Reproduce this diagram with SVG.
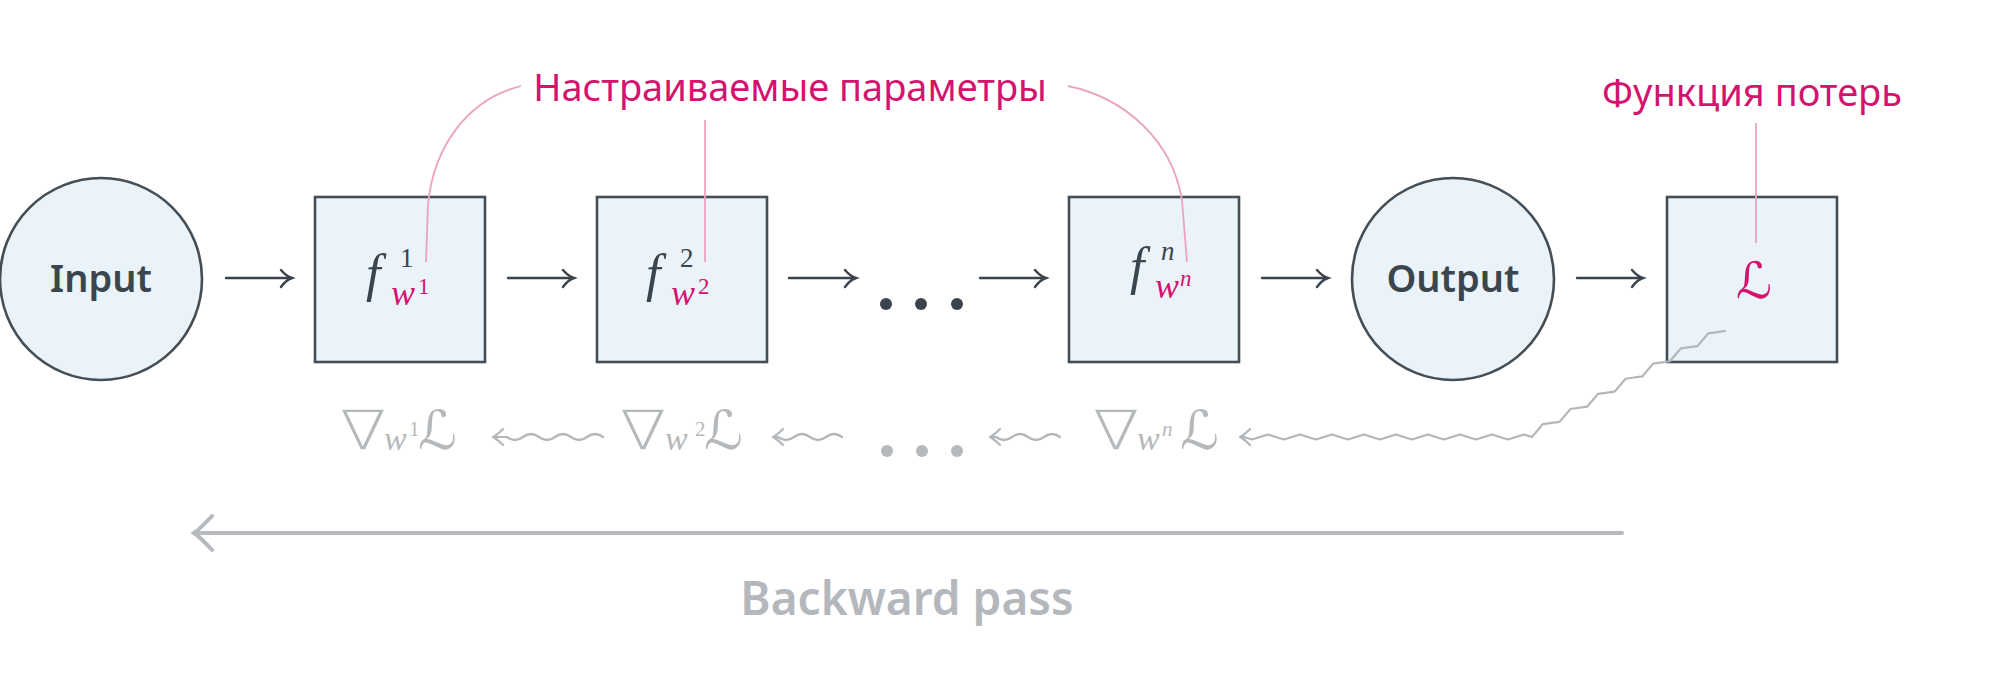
<svg xmlns="http://www.w3.org/2000/svg" width="2000" height="691" viewBox="0 0 2000 691">
<style>
.node{fill:#e9f3f9;stroke:#444e56;stroke-width:2.6}
.lbl{font-family:"Noto Sans","Open Sans",sans-serif;font-weight:600;font-size:38px;fill:#3b454d;text-anchor:middle}
.pinkt{font-family:"Noto Sans","Open Sans",sans-serif;font-size:38px;fill:#d4136f;text-anchor:middle}
.lead{fill:none;stroke:#eaa3c1;stroke-width:1.8}
.math{font-family:"Liberation Serif","DejaVu Serif",serif;fill:#3b454d}
.it{font-style:italic}
.pk{fill:#d4136f}
.gm{font-family:"Liberation Serif","DejaVu Serif",serif;fill:#b5b9bc}
.sym{font-family:"DejaVu Sans",sans-serif}
.nab{font-family:"DejaVu Sans",sans-serif;font-weight:200;fill:#b5b9bc;font-size:54px}
.fwd{fill:none;stroke:#3b444c;stroke-width:2.4;stroke-linecap:round}
.bwd{fill:none;stroke:#b3b7ba;stroke-width:2.2;stroke-linecap:round;stroke-linejoin:round}
.big{fill:none;stroke:#b6babe;stroke-width:4;stroke-linecap:round}
.bp{font-family:"Noto Sans","Open Sans",sans-serif;font-weight:600;font-size:46px;fill:#b4b8bc;text-anchor:middle}
</style>

<g id="input">
  <circle class="node" cx="101" cy="279" r="101"/>
  <text class="lbl" x="101" y="292">Input</text>
</g>

<g id="f1">
  <rect class="node" x="315" y="197" width="170" height="165"/>
  <text class="math it" x="366" y="291" font-size="52">f</text>
  <text class="math" x="400" y="267" font-size="27">1</text>
  <text class="math it pk" x="391" y="305" font-size="36">w</text>
  <text class="math pk" x="418" y="294" font-size="23">1</text>
</g>

<g id="f2">
  <rect class="node" x="597" y="197" width="170" height="165"/>
  <text class="math it" x="646" y="291" font-size="52">f</text>
  <text class="math" x="680" y="267" font-size="27">2</text>
  <text class="math it pk" x="671" y="305" font-size="36">w</text>
  <text class="math pk" x="698" y="294" font-size="23">2</text>
</g>

<g id="ellipsis-top" fill="#3b444c">
  <circle cx="886" cy="304" r="6"/>
  <circle cx="921" cy="304" r="6"/>
  <circle cx="957" cy="304" r="6"/>
</g>

<g id="fn">
  <rect class="node" x="1069" y="197" width="170" height="165"/>
  <text class="math it" x="1130" y="284" font-size="52">f</text>
  <text class="math it" x="1161" y="260" font-size="27">n</text>
  <text class="math it pk" x="1155" y="298" font-size="36">w</text>
  <text class="math it pk" x="1180" y="286" font-size="23">n</text>
</g>

<g id="output">
  <circle class="node" cx="1453" cy="279" r="101"/>
  <text class="lbl" x="1453" y="292">Output</text>
</g>

<g id="loss">
  <rect class="node" x="1667" y="197" width="170" height="165"/>
  <text class="sym pk" x="1754" y="298" font-size="50" text-anchor="middle">ℒ</text>
</g>

<g id="label-params">
  <text class="pinkt" x="790" y="101">Настраиваемые параметры</text>
  <path class="lead" d="M521 86 C465 100 433 150 428 205 L426 262"/>
  <path class="lead" d="M705 120 L705 262"/>
  <path class="lead" d="M1068 86 C1125 98 1172 140 1182 200 L1187 262"/>
</g>

<g id="label-loss">
  <text class="pinkt" x="1752" y="106">Функция потерь</text>
  <path class="lead" d="M1756 123 L1756 243"/>
</g>

<g id="grad1">
  <text class="nab" transform="translate(340 449) scale(1.25 1)">∇</text>
  <text class="gm it" x="384" y="450" font-size="34">w</text>
  <text class="gm" x="409" y="436" font-size="21">1</text>
  <text class="gm sym" x="418" y="449" font-size="54">ℒ</text>
</g>

<g id="grad2">
  <text class="nab" transform="translate(620 449) scale(1.25 1)">∇</text>
  <text class="gm it" x="665" y="450" font-size="34">w</text>
  <text class="gm" x="695" y="436" font-size="21">2</text>
  <text class="gm sym" x="704" y="449" font-size="54">ℒ</text>
</g>

<g id="ellipsis-bottom" fill="#b5b9bc">
  <circle cx="887" cy="451" r="6"/>
  <circle cx="922" cy="451" r="6"/>
  <circle cx="957" cy="451" r="6"/>
</g>

<g id="gradn">
  <text class="nab" transform="translate(1093 449) scale(1.25 1)">∇</text>
  <text class="gm it" x="1137" y="450" font-size="34">w</text>
  <text class="gm it" x="1162" y="436" font-size="21">n</text>
  <text class="gm sym" x="1180" y="449" font-size="54">ℒ</text>
</g>

<g id="backward-label">
  <text class="bp" x="907" y="615">Backward pass</text>
</g>

<g id="connectors">
  <path class="fwd" d="M226 278 H291 M281 270 Q286 276 292 278 Q286 280 281 287"/>
  <path class="fwd" d="M508 278 H573 M563 270 Q568 276 574 278 Q568 280 563 287"/>
  <path class="fwd" d="M789 278 H855 M845 270 Q850 276 856 278 Q850 280 845 287"/>
  <path class="fwd" d="M980 278 H1045 M1035 270 Q1040 276 1046 278 Q1040 280 1035 287"/>
  <path class="fwd" d="M1262 278 H1327 M1317 270 Q1322 276 1328 278 Q1322 280 1317 287"/>
  <path class="fwd" d="M1577 278 H1642 M1632 270 Q1637 276 1643 278 Q1637 280 1632 287"/>

  <path class="bwd" d="M603 437 q-8 -6 -16 0 t-16 0 t-16 0 t-16 0 t-16 0 t-16 0 L494 437 M503 429 Q497 435 493 437 Q497 439 503 445"/>
  <path class="bwd" d="M842 437 q-8 -6 -16 0 t-16 0 t-16 0 t-16 0 L774 437 M783 429 Q777 435 773 437 Q777 439 783 445"/>
  <path class="bwd" d="M1060 437 q-8 -6 -16 0 t-16 0 t-16 0 t-16 0 L991 437 M1000 429 Q994 435 990 437 Q994 439 1000 445"/>
  <path class="bwd" d="M1725 331 l-16.69 2.31 l-10.89 12.83 l-16.69 2.31 l-10.89 12.83 l-16.69 2.31 l-10.89 12.83 l-16.69 2.31 l-10.89 12.83 l-16.69 2.31 l-10.89 12.83 l-16.69 2.31 l-10.89 12.83 l-16.69 2.31 l-10.89 12.83 l-8 -2.5 l-16 5 l-16 -5 l-16 5 l-16 -5 l-16 5 l-16 -5 l-16 5 l-16 -5 l-16 5 l-16 -5 l-16 5 l-16 -5 l-16 5 l-16 -5 l-16 5 l-16 -5 l-16 5 l-8 -2.5 L1241 437 M1250 429 Q1244 435 1240 437 Q1244 439 1250 445"/>

  <path class="big" d="M1622 533 H196 M212 516 Q200 529 194 533 Q200 537 212 550"/>
</g>
</svg>
